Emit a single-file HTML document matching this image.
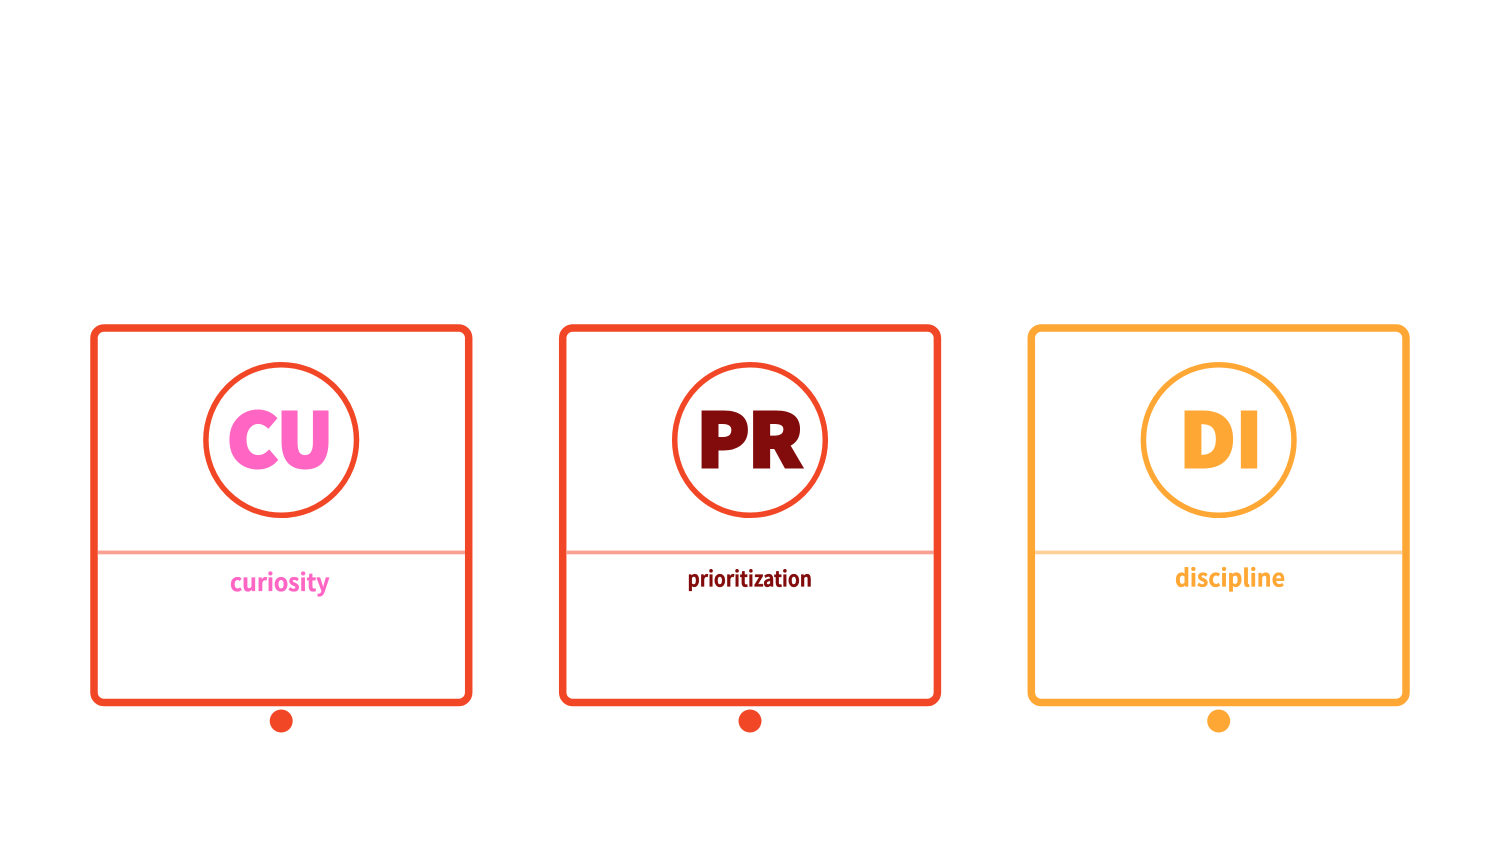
<!DOCTYPE html>
<html>
<head>
<meta charset="utf-8">
<style>
html,body{margin:0;padding:0;background:#fff;width:1500px;height:843px;overflow:hidden}
svg{display:block}
text{font-family:"Noto Sans CJK JP","Liberation Sans",sans-serif}
.big{font-size:74px;font-weight:900;stroke-width:3px;stroke-linejoin:miter}
.lab{font-weight:700;stroke-width:.35px}
</style>
</head>
<body>
<svg width="1500" height="843" viewBox="0 0 1500 843" xmlns="http://www.w3.org/2000/svg">
<rect width="1500" height="843" fill="#fff"/>

<rect x="94" y="328" width="374.7" height="374.5" rx="10" fill="#fff" stroke="#f24727" stroke-width="7.5"/>
<rect x="97.5" y="550.6" width="367.5" height="3.7" fill="#f9a093"/>
<circle cx="281.2" cy="440" r="75.3" fill="#fff" stroke="#f24727" stroke-width="5.5"/>
<circle cx="281.2" cy="721" r="11.5" fill="#f24727"/>
<g fill="#ff66c4" stroke="#ff66c4">
<text class="big" x="227" y="467" textLength="51" lengthAdjust="spacingAndGlyphs">C</text>
<text class="big" x="277" y="467" textLength="56" lengthAdjust="spacingAndGlyphs">U</text>
<text class="lab" x="230" y="591" font-size="24" textLength="99.5" lengthAdjust="spacingAndGlyphs">curiosity</text>
</g>

<rect x="562.7" y="328" width="374.7" height="374.5" rx="10" fill="#fff" stroke="#f24727" stroke-width="7.5"/>
<rect x="566" y="550.6" width="367.5" height="3.7" fill="#f9a093"/>
<circle cx="750" cy="440" r="75.3" fill="#fff" stroke="#f24727" stroke-width="5.5"/>
<circle cx="750" cy="721" r="11.5" fill="#f24727"/>
<g fill="#820b0b" stroke="#820b0b">
<text class="big" x="696.5" y="467" textLength="53" lengthAdjust="spacingAndGlyphs">P</text>
<text class="big" x="748" y="467" textLength="55" lengthAdjust="spacingAndGlyphs">R</text>
<text class="lab" x="687.5" y="586.7" font-size="21" textLength="124.5" lengthAdjust="spacingAndGlyphs">prioritization</text>
</g>

<rect x="1031.3" y="328" width="374.7" height="374.5" rx="10" fill="#fff" stroke="#ffa734" stroke-width="7.5"/>
<rect x="1035" y="550.6" width="367.5" height="3.7" fill="#ffd199"/>
<circle cx="1218.7" cy="440" r="75.3" fill="#fff" stroke="#ffa734" stroke-width="5.5"/>
<circle cx="1218.7" cy="721" r="11.5" fill="#ffa734"/>
<g fill="#ffa734" stroke="#ffa734">
<text class="big" x="1179.5" y="467" textLength="56" lengthAdjust="spacingAndGlyphs">D</text>
<text class="big" x="1236" y="467" textLength="26" lengthAdjust="spacingAndGlyphs">I</text>
<text class="lab" x="1175" y="586.7" font-size="24" textLength="110" lengthAdjust="spacingAndGlyphs">discipline</text>
</g>
</svg>
</body>
</html>
